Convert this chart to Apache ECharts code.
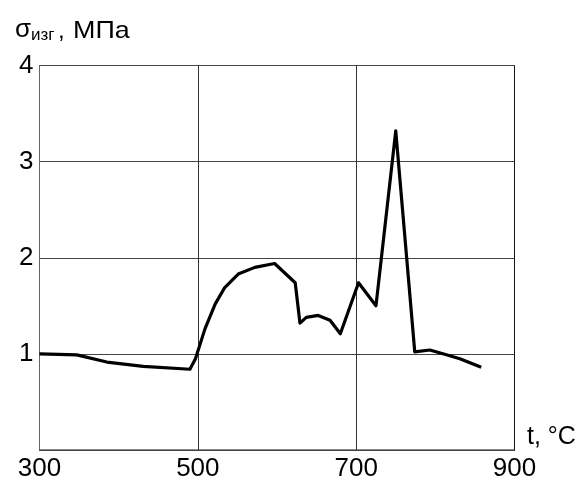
<!DOCTYPE html>
<html>
<head>
<meta charset="utf-8">
<script src="https://cdn.jsdelivr.net/npm/echarts@6/dist/echarts.min.js"></script>
<style>
html,body{margin:0;padding:0;background:#fff;}
#chart{width:581px;height:482px;}
</style>
</head>
<body>
<div id="chart"></div>
<script>
// temperature, °C
const temps = [300, 347, 385, 431, 490, 497, 509, 522, 534, 551, 572, 597, 623, 629, 637, 652, 667, 680, 703, 725, 750, 774, 793, 814, 831, 858];
// bending strength, MPa
const sigma = [1.00, 0.99, 0.915, 0.87, 0.84, 0.95, 1.26, 1.52, 1.69, 1.83, 1.90, 1.94, 1.74, 1.32, 1.38, 1.40, 1.35, 1.21, 1.74, 1.50, 3.32, 1.02, 1.04, 0.99, 0.95, 0.86];
const xTickLabels = [300, 500, 700, 900];
const xGridLines = [500, 700];
const yTickLabels = [1, 2, 3, 4];

const chart = echarts.init(document.getElementById('chart'));
const font = 'Liberation Sans, Arial, sans-serif';
chart.setOption({
  animation: false,
  grid: {left: 39.5, right: 66.5, top: 65.5, bottom: 30.5, show: true, borderColor: '#111', borderWidth: 1, containLabel: false},
  xAxis: {
    type: 'value', min: 300, max: 900, interval: 100,
    axisLine: {show: true, lineStyle: {color: '#444', width: 1}},
    axisTick: {show: false},
    splitLine: {show: false},
    axisLabel: {
      margin: 6, color: '#000', fontSize: 26, fontFamily: font,
      formatter: v => xTickLabels.includes(v) ? String(v) : ''
    }
  },
  yAxis: {
    type: 'value', min: 0, max: 4, interval: 1,
    axisLine: {show: true, lineStyle: {color: '#666', width: 1}},
    axisTick: {show: false},
    splitLine: {show: true, lineStyle: {color: '#444', width: 1}},
    axisLabel: {
      margin: 6, color: '#000', fontSize: 26, fontFamily: font,
      formatter: v => yTickLabels.includes(v) ? String(v) : ''
    }
  },
  series: [{
    type: 'line',
    data: temps.map((t, i) => [t, sigma[i]]),
    symbol: 'none',
    lineStyle: {color: '#000', width: 3.2, join: 'round'},
    markLine: {
      silent: true, symbol: 'none', label: {show: false},
      lineStyle: {color: '#333', width: 1, type: 'solid'},
      data: xGridLines.map(v => ({xAxis: v}))
    },
    z: 5
  }],
  graphic: [
    {type: 'text', left: 15, top: 17, style: {text: 'σ', font: '26px ' + font, fill: '#000'}},
    {type: 'text', left: 31, top: 27, style: {text: 'изг', font: '17px ' + font, fill: '#000'}},
    {type: 'text', left: 58, top: 19, style: {text: ',', font: '24px ' + font, fill: '#000'}},
    {type: 'text', left: 73, top: 19, scaleX: 1.12, style: {text: 'МПа', font: '24px ' + font, fill: '#000'}},
    {type: 'text', left: 527, top: 425, style: {text: 't, °C', font: '25px ' + font, fill: '#000'}}
  ]
});
</script>
</body>
</html>
